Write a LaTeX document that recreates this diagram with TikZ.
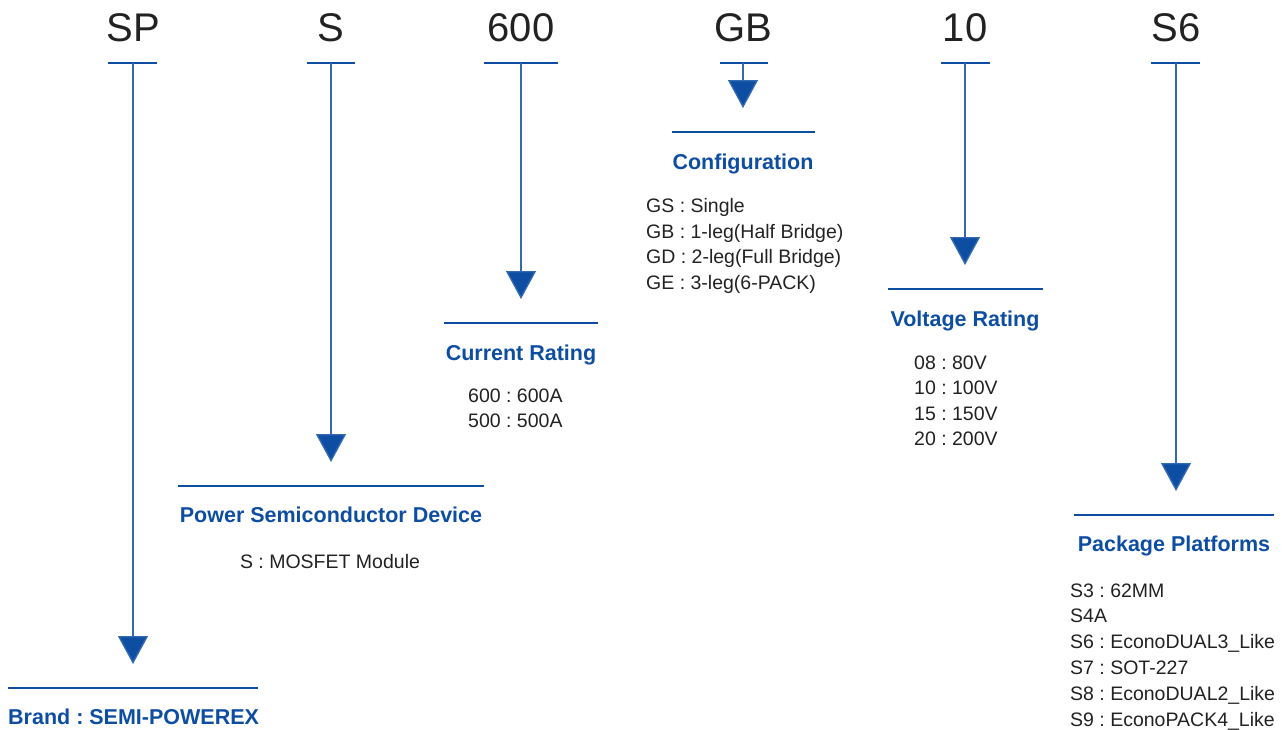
\documentclass[tikz,border=0pt]{standalone}
\usepackage{fontspec}
\setmainfont{Liberation Sans}
\usetikzlibrary{arrows.meta}
\definecolor{pnblue}{RGB}{14,78,162}
\definecolor{pntext}{RGB}{34,34,34}
\frenchspacing
\tikzset{
  code/.style={anchor=base, text=pntext, font=\fontsize{40}{40}\selectfont, inner sep=0pt},
  capbar/.style={draw=pnblue, line width=2.6pt},
  stem/.style={draw=pnblue!85, line width=1.4pt, -{Triangle[width=30pt,length=28pt,fill=pnblue]}},
  heading/.style={text=pnblue, font=\frenchspacing\fontsize{21.5}{24}\selectfont\bfseries, inner sep=0pt},
  item/.style={text=pntext, font=\frenchspacing\fontsize{19.5}{22}\selectfont, inner sep=0pt, anchor=base west},
}
\begin{document}
\begin{tikzpicture}[x=1pt,y=-1pt]
\useasboundingbox (0,0) rectangle (1284,729);
% top codes
\node[code] (cSP) at (133,41) {SP};
\node[code] (cS) at (331,41) {S};
\node[code] (c600) at (521,41) {600};
\node[code] (cGB) at (743,41) {GB};
\node[code] (c10) at (965,41) {10};
\node[code] (cS6) at (1176,41) {S6};
% short bars under codes
\draw[capbar] (108,63) -- (157,63);
\draw[capbar] (307,63) -- (355,63);
\draw[capbar] (484,63) -- (558,63);
\draw[capbar] (720,63) -- (768,63);
\draw[capbar] (941,63) -- (990,63);
\draw[capbar] (1151,63) -- (1200,63);
% stem start coordinates
\coordinate (sSP) at (133,63);
\coordinate (sS) at (331,63);
\coordinate (s600) at (521,63);
\coordinate (sGB) at (743,63);
\coordinate (s10) at (965,63);
\coordinate (sS6) at (1176,63);
% stem end coordinates (arrow apex)
\coordinate (eSP) at (133,664);
\coordinate (eS) at (331,462);
\coordinate (e600) at (521,299);
\coordinate (eGB) at (743,108);
\coordinate (e10) at (965,265);
\coordinate (eS6) at (1176,491);
\draw[stem] (sSP) -- (eSP);
\draw[stem] (sS) -- (eS);
\draw[stem] (s600) -- (e600);
\draw[stem] (sGB) -- (eGB);
\draw[stem] (s10) -- (e10);
\draw[stem] (sS6) -- (eS6);
% long bars
\draw[capbar] (8,688) -- (258,688);
\draw[capbar] (178,486) -- (484,486);
\draw[capbar] (444,323) -- (598,323);
\draw[capbar] (672,132) -- (815,132);
\draw[capbar] (888,289) -- (1043,289);
\draw[capbar] (1074,515) -- (1274,515);
% headings
\node[heading, anchor=base west] (hBrand) at (8,724) {Brand : SEMI-POWEREX};
\node[heading, anchor=base] (hS) at (331,522.5) {Power Semiconductor Device};
\node[heading, anchor=base] (h600) at (521,360) {Current Rating};
\node[heading, anchor=base] (hGB) at (743,169) {Configuration};
\node[heading, anchor=base] (h10) at (965,326) {Voltage Rating};
\node[heading, anchor=base] (hS6) at (1174,551.5) {Package Platforms};
% items
\node[item, anchor=base] (iS1) at (330,568) {S : MOSFET Module};
\foreach \t [count=\i] in {600 : 600A, 500 : 500A}
  \node[item] (iC\i) at (468,{402+(\i-1)*25.5}) {\t};
\foreach \t [count=\i] in {GS : Single, GB : 1-leg(Half Bridge), GD : 2-leg(Full Bridge), GE : 3-leg(6-PACK)}
  \node[item] (iG\i) at (646,{212.5+(\i-1)*25.7}) {\t};
\foreach \t [count=\i] in {08 : 80V, 10 : 100V, 15 : 150V, 20 : 200V}
  \node[item] (iV\i) at (914,{369+(\i-1)*25.6}) {\t};
\foreach \t [count=\i] in {S3 : 62MM, S4A, S6 : EconoDUAL3\_Like, S7 : SOT-227, S8 : EconoDUAL2\_Like, S9 : EconoPACK4\_Like}
  \node[item] (iP\i) at (1070,{597+(\i-1)*25.8}) {\t};
\end{tikzpicture}
\end{document}
